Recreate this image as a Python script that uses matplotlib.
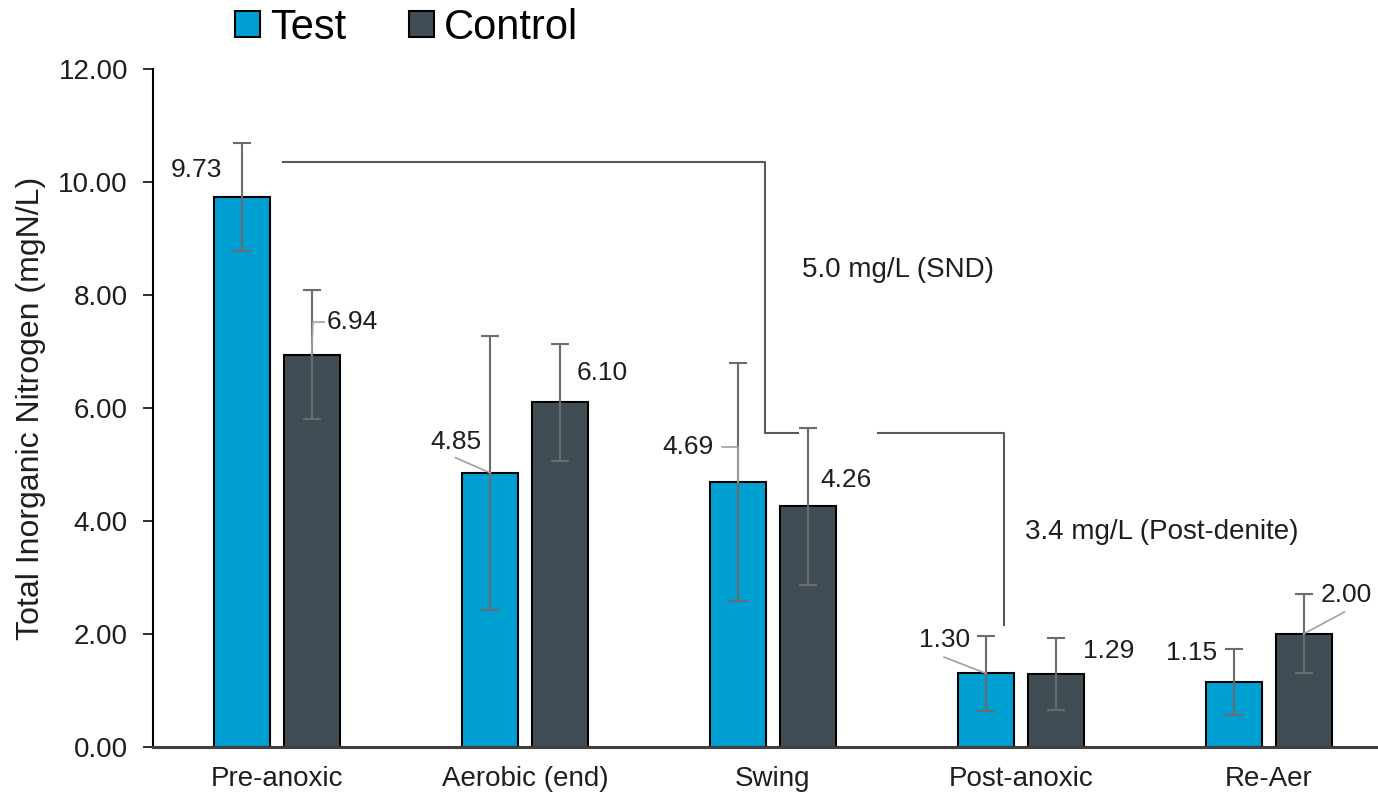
import numpy as np
import matplotlib
matplotlib.use("Agg")
from matplotlib import pyplot as plt
from matplotlib.patches import Patch

plt.rcParams['font.family'] = ['Liberation Sans', 'DejaVu Sans']

# data
stages = ["Pre-anoxic", "Aerobic (end)", "Swing", "Post-anoxic", "Re-Aer"]
test_vals = [9.73, 4.85, 4.69, 1.30, 1.15]
control_vals = [6.94, 6.10, 4.26, 1.29, 2.00]
test_err = [0.96, 2.42, 2.10, 0.66, 0.59]
control_err = [1.14, 1.04, 1.39, 0.63, 0.70]
yticks = [0, 2, 4, 6, 8, 10, 12]

test_col = "#009fd2"
ctrl_col = "#414d55"
err_col = "#6b6b6b"
lead_col = "#a0a0a0"
ann_col = "#5a5a5a"

fig = plt.figure(figsize=(13.78, 7.98), dpi=100)
ax = fig.add_axes([0.111, 0.064, 0.889, 0.8495])

x = np.arange(len(stages))
off = 0.14
w = 0.225

ax.bar(x - off, test_vals, w, color=test_col, edgecolor="black", linewidth=1.5, zorder=2)
ax.bar(x + off, control_vals, w, color=ctrl_col, edgecolor="black", linewidth=1.5, zorder=2)
ax.errorbar(x - off, test_vals, yerr=test_err, fmt="none", ecolor=err_col,
            elinewidth=1.5, capsize=6.5, capthick=1.5, zorder=3)
ax.errorbar(x + off, control_vals, yerr=control_err, fmt="none", ecolor=err_col,
            elinewidth=1.5, capsize=6.5, capthick=1.5, zorder=3)

# value labels: (dx, y, ha) relative to bar centre, plus optional leader
test_lab = [(-0.08, 10.21, "right"), (-0.24, 5.40, "left"), (-0.10, 5.31, "right"),
            (-0.27, 1.89, "left"), (-0.07, 1.66, "right")]
ctrl_lab = [(0.06, 7.52, "left"), (0.07, 6.62, "left"), (0.05, 4.73, "left"),
            (0.11, 1.70, "left"), (0.07, 2.69, "left")]
test_lead = {1: [(-0.14, 5.12)], 2: [(0.0, 5.31), (-0.065, 5.31)], 3: [(-0.17, 1.59)]}
ctrl_lead = {0: [(0.005, 7.52), (0.05, 7.52)], 4: [(0.165, 2.39)]}

for vals, labs, leads, sgn in [(test_vals, test_lab, test_lead, -1),
                               (control_vals, ctrl_lab, ctrl_lead, 1)]:
    for i, v in enumerate(vals):
        cx = x[i] + sgn * off
        dx, ty, ha = labs[i]
        ax.text(cx + dx, ty, "%.2f" % v, ha=ha, va="center", fontsize=19, color="#1e1e1e", zorder=4)
        if i in leads:
            pts = [(cx, v)] + [(cx + p[0], p[1]) for p in leads[i]]
            ax.plot([p[0] for p in pts], [p[1] for p in pts], color=lead_col, lw=1.2, zorder=4)

# bracket annotations
ax.plot([0.024, 1.968, 1.968, 2.101], [10.35, 10.35, 5.56, 5.56], color=ann_col, lw=1.5, zorder=1)
ax.plot([2.423, 2.931, 2.931], [5.56, 5.56, 2.16], color=ann_col, lw=1.5, zorder=1)
ax.text(2.117, 8.44, "5.0 mg/L (SND)", ha="left", va="center", fontsize=20, color="#1e1e1e")
ax.text(3.016, 3.81, "3.4 mg/L (Post-denite)", ha="left", va="center", fontsize=20, color="#1e1e1e")

ax.set_xlim(-0.5, 4.44)
ax.set_ylim(0, 12)
ax.set_yticks(yticks)
ax.set_yticklabels(["%.2f" % t for t in yticks])
ax.set_xticks(x)
ax.set_xticklabels(stages)
ax.tick_params(axis="y", labelsize=20, length=7, width=1.3, pad=11, colors="#1e1e1e")
ax.tick_params(axis="x", labelsize=20, length=0, pad=14, colors="#1e1e1e")
ax.set_ylabel("Total Inorganic Nitrogen (mgN/L)", fontsize=23, color="#1e1e1e", labelpad=9)

for s in ["top", "right"]:
    ax.spines[s].set_visible(False)
ax.spines["left"].set_linewidth(1.5)
ax.spines["left"].set_color("black")
ax.spines["bottom"].set_linewidth(2.2)
ax.spines["bottom"].set_color("#404040")

handles = [Patch(facecolor=test_col, edgecolor="black", lw=1.5, label="Test"),
           Patch(facecolor=ctrl_col, edgecolor="black", lw=1.5, label="Control")]
fig.legend(handles=handles, loc="center", bbox_to_anchor=(0.295, 0.965), ncol=2,
           frameon=False, fontsize=30, handlelength=0.6, handleheight=0.6,
           handletextpad=0.25, columnspacing=1.5, borderpad=0)

fig.savefig("out.png", dpi=100)
